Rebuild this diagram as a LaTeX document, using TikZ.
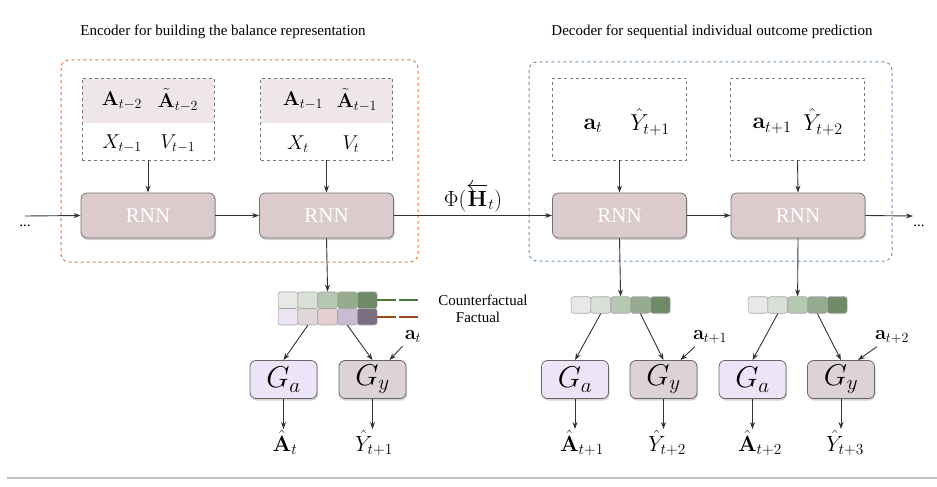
\RequirePackage{fix-cm}
\documentclass[tikz,border=0pt]{standalone}
\usepackage{amsmath}
\usepackage[no-math]{fontspec}
\setmainfont{Liberation Serif}
\usetikzlibrary{arrows.meta,shadows,calc}
\definecolor{rnnfill}{HTML}{DCCBCD}
\definecolor{boxline}{HTML}{777777}
\definecolor{gafill}{HTML}{ECE5F7}
\definecolor{gyfill}{HTML}{DDD3D4}
\definecolor{inshade}{HTML}{EFE6E7}
\definecolor{encline}{HTML}{E07B40}
\definecolor{decline}{HTML}{6F93B5}
\definecolor{cfgreen}{HTML}{4E7A3C}
\definecolor{fbrown}{HTML}{9A4A1C}
\definecolor{ca1}{HTML}{E8E8E6}
\definecolor{ca2}{HTML}{D9E0D8}
\definecolor{ca3}{HTML}{B5C8B2}
\definecolor{ca4}{HTML}{95AA8E}
\definecolor{ca5}{HTML}{6F8A66}
\definecolor{cb1}{HTML}{ECE4F3}
\definecolor{cb2}{HTML}{E0D8D8}
\definecolor{cb3}{HTML}{E3CFD0}
\definecolor{cb4}{HTML}{C8BCD3}
\definecolor{cb5}{HTML}{7A6E80}
\tikzset{
  arr/.style={draw=black!80, line width=0.9pt, -{Stealth[length=7pt,width=5pt]}},
  rnnbox/.style={draw=black!55, line width=0.8pt, fill=rnnfill, rounded corners=6pt,
     minimum width=134pt, minimum height=45pt, text=white,
     font=\fontsize{21}{24}\selectfont,
     drop shadow={opacity=0.35, shadow xshift=1pt, shadow yshift=-2pt}},
  inbox/.style={draw=boxline, dashed, line width=0.9pt, minimum width=132pt, minimum height=82pt,
     path picture={\fill[inshade] (path picture bounding box.north west) rectangle ([yshift=-4pt]path picture bounding box.east);}},
  decbox/.style={draw=boxline, dashed, line width=0.9pt, minimum width=134pt, minimum height=82pt},
  gbox/.style={draw=black!60, line width=0.8pt, rounded corners=6pt, minimum width=67pt, minimum height=38pt,
     font=\fontsize{30}{32}\selectfont, inner sep=0pt,
     drop shadow={opacity=0.35, shadow xshift=1pt, shadow yshift=-2pt}},
  cell/.style={draw=black!35, line width=0.6pt, rounded corners=2.5pt, minimum width=19.8pt, minimum height=16.5pt, inner sep=0pt},
  mtxt/.style={font=\fontsize{20}{22}\selectfont, inner sep=1pt},
  dtxt/.style={font=\fontsize{23}{25}\selectfont, inner sep=1pt},
  otxt/.style={font=\fontsize{22}{24}\selectfont, inner sep=1pt},
  ttl/.style={font=\fontsize{15}{18}\selectfont},
  lbl/.style={font=\fontsize{15}{18}\selectfont},
}
\begin{document}
\begin{tikzpicture}[x=1pt,y=-1pt]
\useasboundingbox (0,0) rectangle (937,487);
% titles
\node[ttl] (t1) at (223,32) {Encoder for building the balance representation};
\node[ttl] (t2) at (712,32) {Decoder for sequential individual outcome prediction};
% outer dashed boxes
\draw[encline, dashed, line width=1pt, rounded corners=8pt] (61,60) rectangle (418,262);
\draw[decline, dashed, line width=1pt, rounded corners=8pt] (529,62) rectangle (892,261);
% encoder inputs
\node[inbox] (in1) at (148,119) {};
\node[inbox] (in2) at (326.5,119) {};
\node[mtxt] (a1) at (122,101) {$\mathbf{A}_{t-2}$};
\node[mtxt] (b1) at (178,100) {$\tilde{\mathbf{A}}_{t-2}$};
\node[mtxt] (x1) at (122,144) {$X_{t-1}$};
\node[mtxt] (v1) at (178,144) {$V_{t-1}$};
\node[mtxt] (a2) at (303,101) {$\mathbf{A}_{t-1}$};
\node[mtxt] (b2) at (357,100) {$\tilde{\mathbf{A}}_{t-1}$};
\node[mtxt] (x2) at (298,144) {$X_{t}$};
\node[mtxt] (v2) at (351,144) {$V_{t}$};
% decoder inputs
\node[decbox] (in3) at (619.5,119) {};
\node[decbox] (in4) at (797.5,119) {};
\node[dtxt] (p1) at (593,126) {$\mathbf{a}_{t}$};
\node[dtxt] (q1) at (650,122) {$\hat{Y}_{t+1}$};
\node[dtxt] (p2) at (772,126) {$\mathbf{a}_{t+1}$};
\node[dtxt] (q2) at (823,122) {$\hat{Y}_{t+2}$};
% RNNs
\node[rnnbox] (r1) at (148,215.5) {RNN};
\node[rnnbox] (r2) at (326.5,215.5) {RNN};
\node[rnnbox] (r3) at (619.5,215.5) {RNN};
\node[rnnbox] (r4) at (798,215.5) {RNN};
% horizontal chain
\coordinate (cin) at (25,216);
\coordinate (cout) at (913,216);
\node[lbl] (d1) at (25,226) {...};
\node[lbl] (d2) at (919,226) {...};
\draw[arr] (cin) -- (r1.west);
\draw[arr] (r1.east) -- (r2.west);
\draw[arr] (r2.east) -- node[above=0pt, font=\fontsize{22}{24}\selectfont] (phi) {$\Phi(\overleftarrow{\mathbf{H}}_t)$} (r3.west);
\draw[arr] (r3.east) -- (r4.west);
\draw[arr] (r4.east) -- (cout);
% inputs to RNN
\draw[arr] (in1.south) -- (r1.north);
\draw[arr] (in2.south) -- (r2.north);
\draw[arr] (in3.south) -- (r3.north);
\draw[arr] (in4.south) -- (r4.north);
% encoder vector
\foreach \i/\x in {1/288,2/307.8,3/327.6,4/347.4,5/367.2}{
  \node[cell, fill=ca\i] (e1\i) at (\x,300.2) {};
  \node[cell, fill=cb\i] (e2\i) at (\x,316.7) {};
}
\draw[arr] (r2.south) -- (e13.north);
\coordinate (cfend) at (419,300.2);
\coordinate (fend) at (419,316.7);
\draw[cfgreen, line width=1.6pt, dash pattern=on 19pt off 3pt] (e15.east) -- (cfend);
\draw[fbrown, line width=1.6pt, dash pattern=on 19pt off 3pt] (e25.east) -- (fend);
\node[lbl] (cf) at (483,300) {Counterfactual};
\node[lbl] (fa) at (478,317) {Factual};
% decoder vectors
\foreach \i/\x in {1/581,2/600.8,3/620.6,4/640.4,5/660.2}{
  \node[cell, fill=ca\i] (f\i) at (\x,305) {};
}
\foreach \i/\x in {1/758,2/777.8,3/797.6,4/817.4,5/837.2}{
  \node[cell, fill=ca\i] (g\i) at (\x,305) {};
}
\draw[arr] (r3.south) -- (f3.north);
\draw[arr] (r4.south) -- (g3.north);
% G boxes
\node[gbox, fill=gafill] (ga1) at (283.5,379.5) {$G_a$};
\node[gbox, fill=gyfill] (gy1) at (372.5,379.5) {$G_y$};
\node[gbox, fill=gafill] (ga2) at (575,379.5) {$G_a$};
\node[gbox, fill=gyfill] (gy2) at (663.5,379.5) {$G_y$};
\node[gbox, fill=gafill] (ga3) at (752.5,379.5) {$G_a$};
\node[gbox, fill=gyfill] (gy3) at (841,379.5) {$G_y$};
\draw[arr] (e22.south) -- (ga1.north);
\draw[arr] (e24.south) -- (gy1.north);
\draw[arr] (f2.south) -- (ga2.north);
\draw[arr] (f4.south) -- (gy2.north);
\draw[arr] (g2.south) -- (ga3.north);
\draw[arr] (g4.south) -- (gy3.north);
% side action inputs
\node[mtxt] (at1) at (413,337) {$\mathbf{a}_{t}$};
\node[mtxt] (at2) at (710,337) {$\mathbf{a}_{t+1}$};
\node[mtxt] (at3) at (892,337) {$\mathbf{a}_{t+2}$};
\draw[arr] ([xshift=-1pt,yshift=-2pt]at1.south west) -- ($(gy1.north)!0.5!(gy1.north east)$);
\draw[arr] ([xshift=3pt,yshift=-2pt]at2.south west) -- ($(gy2.north)!0.5!(gy2.north east)$);
\draw[arr] ([xshift=3pt,yshift=-2pt]at3.south west) -- ($(gy3.north)!0.5!(gy3.north east)$);
% outputs
\node[otxt, anchor=north] (o1) at (285,429) {$\hat{\mathbf{A}}_{t}$};
\node[otxt, anchor=north] (o2) at (374,429) {$\hat{Y}_{t+1}$};
\node[otxt, anchor=north] (o3) at (582,429) {$\hat{\mathbf{A}}_{t+1}$};
\node[otxt, anchor=north] (o4) at (667,429) {$\hat{Y}_{t+2}$};
\node[otxt, anchor=north] (o5) at (760,429) {$\hat{\mathbf{A}}_{t+2}$};
\node[otxt, anchor=north] (o6) at (845,429) {$\hat{Y}_{t+3}$};
\draw[arr] (ga1.south) -- (ga1.south |- o1.north);
\draw[arr] (gy1.south) -- (gy1.south |- o2.north);
\draw[arr] (ga2.south) -- (ga2.south |- o3.north);
\draw[arr] (gy2.south) -- (gy2.south |- o4.north);
\draw[arr] (ga3.south) -- (ga3.south |- o5.north);
\draw[arr] (gy3.south) -- (gy3.south |- o6.north);
% bottom rule
\coordinate (bl) at (7,478);
\coordinate (br) at (937,478);
\draw[black!25, line width=1.5pt] (bl) -- (br);
\end{tikzpicture}
\end{document}
